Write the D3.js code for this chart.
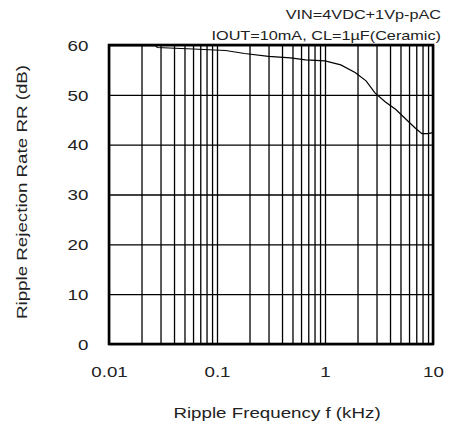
<!DOCTYPE html>
<html>
<head>
<meta charset="utf-8">
<script src="https://cdn.jsdelivr.net/npm/d3@7"></script>
<style>
  body { margin: 0; background: #fff; }
  svg { display: block; font-family: "Liberation Sans", Arial, sans-serif; }
</style>
</head>
<body>
<svg width="449" height="427"></svg>
<script>
// ripple frequency (kHz) and rejection (dB)
const freq = [0.01, 0.027, 0.028, 0.06, 0.12, 0.18, 0.3, 0.48, 0.66, 1.0, 1.4, 1.9, 2.4, 2.9, 3.6, 4.5, 5.5, 6.8, 7.9, 9, 10];
const rr   = [59.85, 59.85, 59.5, 59.2, 58.9, 58.3, 57.7, 57.4, 57.0, 56.8, 56.0, 54.5, 52.8, 50.4, 48.6, 47.1, 45.3, 43.4, 42.2, 42.2, 42.4];

const xTicks = [0.01, 0.1, 1, 10];
const yTicks = [0, 10, 20, 30, 40, 50, 60];
const notes = ["VIN=4VDC+1Vp-pAC", "IOUT=10mA, CL=1\u00b5F(Ceramic)"];

const svg = d3.select("svg");
const area = { left: 109, right: 433, top: 45, bottom: 344 };
const stretch = "scale(1.25,1)"; // the source text is a bit wide

const scX = d3.scaleLog().domain([0.01, 10]).range([area.left, area.right]);
const scY = d3.scaleLinear().domain([0, 60]).range([area.bottom, area.top]);

// every 1..9 per decade gets a grid line, only decades get labels
const gridX = [];
for (let dec of [0.01, 0.1, 1]) for (let k = 1; k < 10; k++) gridX.push(dec * k);
gridX.push(10);

const axX = svg.append("g")
   .attr("transform", `translate(0, ${area.bottom})`)
   .call(d3.axisBottom(scX)
      .tickValues(gridX)
      .tickSize(-(area.bottom - area.top))
      .tickFormat(d => xTicks.some(t => Math.abs(t - d) < 1e-9) ? d3.format("~g")(d) : ""));
axX.select(".domain").remove();
axX.selectAll("line").attr("stroke", "#000").attr("stroke-width", 1.3);
axX.selectAll("text")
   .attr("y", 28).attr("dy", "0.35em")
   .attr("transform", stretch)
   .attr("fill", "#222").style("font-size", "15px");

const axY = svg.append("g")
   .attr("transform", `translate(${area.left}, 0)`)
   .call(d3.axisLeft(scY)
      .tickValues(yTicks)
      .tickSize(-(area.right - area.left)));
axY.select(".domain").remove();
axY.selectAll("line").attr("stroke", "#000").attr("stroke-width", 1.3);
axY.selectAll("text")
   .attr("x", -16.5).attr("dy", "0.35em")
   .attr("transform", stretch)
   .attr("fill", "#222").style("font-size", "15px");

// frame
svg.append("rect")
   .attr("x", area.left).attr("y", area.top)
   .attr("width", area.right - area.left).attr("height", area.bottom - area.top)
   .attr("fill", "none").attr("stroke", "#000").attr("stroke-width", 2.6);

// curve
const line = d3.line()
   .x((d, i) => scX(freq[i]))
   .y(d => scY(d));
svg.append("path")
   .datum(rr)
   .attr("d", line)
   .attr("fill", "none").attr("stroke", "#000").attr("stroke-width", 1.2);

// condition notes, right aligned
notes.forEach((t, i) => {
   svg.append("text")
      .attr("transform", `translate(441, ${19 + i * 21}) ${stretch}`)
      .attr("text-anchor", "end")
      .attr("fill", "#222").style("font-size", "13px")
      .text(t);
});

// axis titles
svg.append("text")
   .attr("transform", `translate(277, 418) ${stretch}`)
   .attr("text-anchor", "middle")
   .attr("fill", "#222").style("font-size", "15px")
   .text("Ripple Frequency f (kHz)");

svg.append("text")
   .attr("transform", `translate(27, 192) rotate(-90) ${stretch}`)
   .attr("text-anchor", "middle")
   .attr("fill", "#222").style("font-size", "15px")
   .text("Ripple Rejection Rate RR (dB)");
</script>
</body>
</html>
